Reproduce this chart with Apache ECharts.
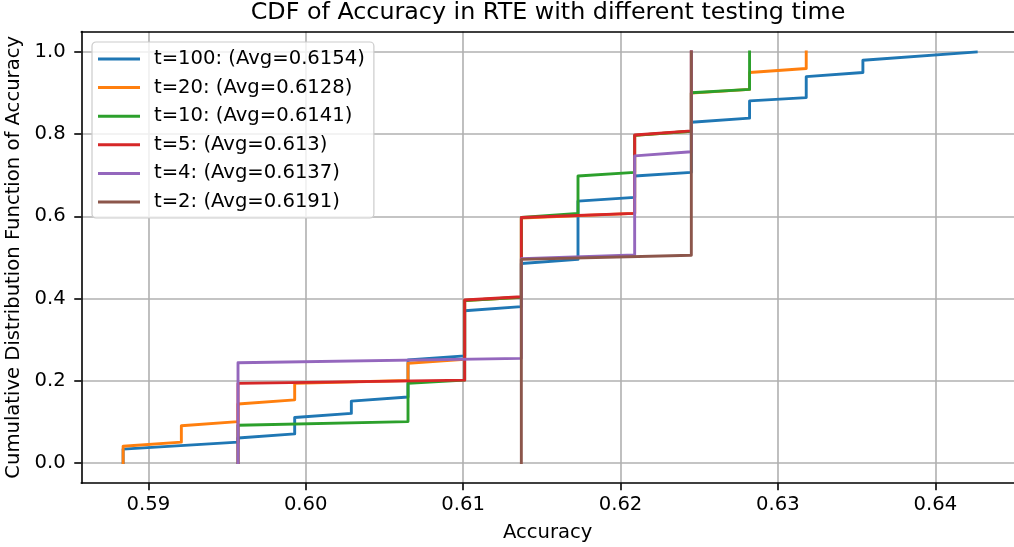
<!DOCTYPE html>
<html><head><meta charset="utf-8">
<script src="https://cdn.jsdelivr.net/npm/echarts@6/dist/echarts.min.js"></script>
<style>html,body{margin:0;padding:0;background:#fff}#c{width:1014px;height:547px}</style>
</head><body><div id="c"></div>
<script>
// Tick positions / labels
const xTicks = [0.59, 0.60, 0.61, 0.62, 0.63, 0.64];
const yTicks = [0.0, 0.2, 0.4, 0.6, 0.8, 1.0];
const xRange = [0.58574, 0.645];
const yRange = [-0.05, 1.05];

const seriesNames = [
  't=100: (Avg=0.6154)',
  't=20: (Avg=0.6128)',
  't=10: (Avg=0.6141)',
  't=5: (Avg=0.613)',
  't=4: (Avg=0.6137)',
  't=2: (Avg=0.6191)'
];

// Sorted accuracy values and CDF heights
const t100Acc = [0.5884,0.5884,0.5957,0.5957,0.5993,0.5993,0.6029,0.6029,0.6065,0.6065,0.6101,0.6101,0.6137,0.6137,0.6173,0.6173,0.6209,0.6209,0.6245,0.6245,0.6282,0.6282,0.6318,0.6318,0.6354,0.6354,0.6426];
const t100Cdf = [0,0.033,0.05,0.06,0.07,0.11,0.12,0.15,0.16,0.25,0.26,0.37,0.38,0.485,0.495,0.637,0.646,0.698,0.707,0.829,0.839,0.881,0.889,0.94,0.95,0.98,1.0];

const t20Acc = [0.5884,0.5884,0.5921,0.5921,0.5957,0.5957,0.5993,0.5993,0.6065,0.6065,0.6101,0.6101,0.6137,0.6137,0.6209,0.6209,0.6245,0.6245,0.6282,0.6282,0.6318,0.6318];
const t20Cdf = [0,0.04,0.05,0.09,0.10,0.143,0.153,0.193,0.20,0.242,0.252,0.395,0.403,0.596,0.607,0.797,0.807,0.90,0.909,0.95,0.96,1.0];

const t10Acc = [0.5957,0.5957,0.6065,0.6065,0.6101,0.6101,0.6137,0.6137,0.6173,0.6173,0.6209,0.6209,0.6245,0.6245,0.6282,0.6282];
const t10Cdf = [0,0.091,0.10,0.193,0.201,0.395,0.403,0.597,0.607,0.698,0.707,0.797,0.807,0.901,0.909,1.0];

const t5Acc = [0.5957,0.5957,0.6101,0.6101,0.6137,0.6137,0.6209,0.6209,0.6245,0.6245];
const t5Cdf = [0,0.193,0.201,0.396,0.404,0.597,0.607,0.798,0.808,1.0];

const t4Acc = [0.5957,0.5957,0.6137,0.6137,0.6209,0.6209,0.6245,0.6245];
const t4Cdf = [0,0.2435,0.254,0.497,0.506,0.747,0.757,1.0];

const t2Acc = [0.6137,0.6137,0.6245,0.6245];
const t2Cdf = [0,0.495,0.505,1.0];

const colors = ['#1f77b4','#ff7f0e','#2ca02c','#d62728','#9467bd','#8c564b'];
const accs = [t100Acc, t20Acc, t10Acc, t5Acc, t4Acc, t2Acc];
const cdfs = [t100Cdf, t20Cdf, t10Cdf, t5Cdf, t4Cdf, t2Cdf];

const FONT = 'DejaVu Sans';
const chart = echarts.init(document.getElementById('c'), null, {renderer: 'canvas'});

const series = seriesNames.map((name, i) => ({
  name: name,
  type: 'line',
  xAxisIndex: 0, yAxisIndex: 0,
  data: accs[i].map((x, j) => [x, cdfs[i][j]]),
  showSymbol: false,
  symbol: 'none',
  lineStyle: {color: colors[i], width: 2.9, cap: 'square', join: 'round'},
  itemStyle: {color: colors[i]},
  animation: false
}));

chart.setOption({
  animation: false,
  backgroundColor: '#ffffff',
  title: {
    text: 'CDF of Accuracy in RTE with different testing time',
    left: 548, top: 1, textAlign: 'center', padding: 0,
    textStyle: {fontFamily: FONT, fontSize: 23.8, fontWeight: 'normal', color: '#000'}
  },
  legend: {
    orient: 'vertical', left: 92, top: 42, align: 'left',
    padding: [7, 9, 6, 6],
    itemWidth: 42, itemHeight: 3, itemGap: 8.6,
    icon: 'rect',
    backgroundColor: 'rgba(255,255,255,0.8)',
    borderColor: '#cccccc', borderWidth: 1.2, borderRadius: 4,
    textStyle: {fontFamily: FONT, fontSize: 19.6, color: '#000', lineHeight: 20, padding: [0,0,0,9]},
    data: seriesNames
  },
  grid: {
    left: 81.25, top: 31.5, right: 0, height: 451.7,
    show: false, containLabel: false, outerBoundsMode: 'none'
  },
  xAxis: [{
    type: 'value', min: xRange[0], max: xRange[1], position: 'bottom',
    name: 'Accuracy', nameLocation: 'middle', nameGap: 40,
    nameTextStyle: {fontFamily: FONT, fontSize: 19.6, color: '#000'},
    axisLine: {show: true, onZero: false, lineStyle: {color: '#000', width: 1.6}},
    axisTick: {show: true, inside: false, length: 7, lineStyle: {color: '#000', width: 1.6}, customValues: xTicks},
    axisLabel: {fontFamily: FONT, fontSize: 19.6, color: '#000', margin: 11.5, customValues: xTicks,
      formatter: v => Number(v).toFixed(2)},
    splitLine: {show: true, lineStyle: {color: '#b0b0b0', width: 1.6}}
  }, {
    type: 'value', min: xRange[0], max: xRange[1], position: 'top',
    axisLine: {show: true, onZero: false, lineStyle: {color: '#000', width: 1.6}},
    axisTick: {show: false}, axisLabel: {show: false}, splitLine: {show: false}
  }],
  yAxis: {
    type: 'value', min: yRange[0], max: yRange[1],
    name: 'Cumulative Distribution Function of Accuracy', nameLocation: 'middle', nameGap: 50,
    nameTextStyle: {fontFamily: FONT, fontSize: 19.6, color: '#000'},
    axisLine: {show: true, onZero: false, lineStyle: {color: '#000', width: 1.6}},
    axisTick: {show: true, inside: false, length: 7, lineStyle: {color: '#000', width: 1.6}, customValues: yTicks},
    axisLabel: {fontFamily: FONT, fontSize: 19.6, color: '#000', margin: 15.5, customValues: yTicks,
      formatter: v => Number(v).toFixed(1)},
    splitLine: {show: true, lineStyle: {color: '#b0b0b0', width: 1.6}}
  },
  series: series
});
</script>
</body></html>
